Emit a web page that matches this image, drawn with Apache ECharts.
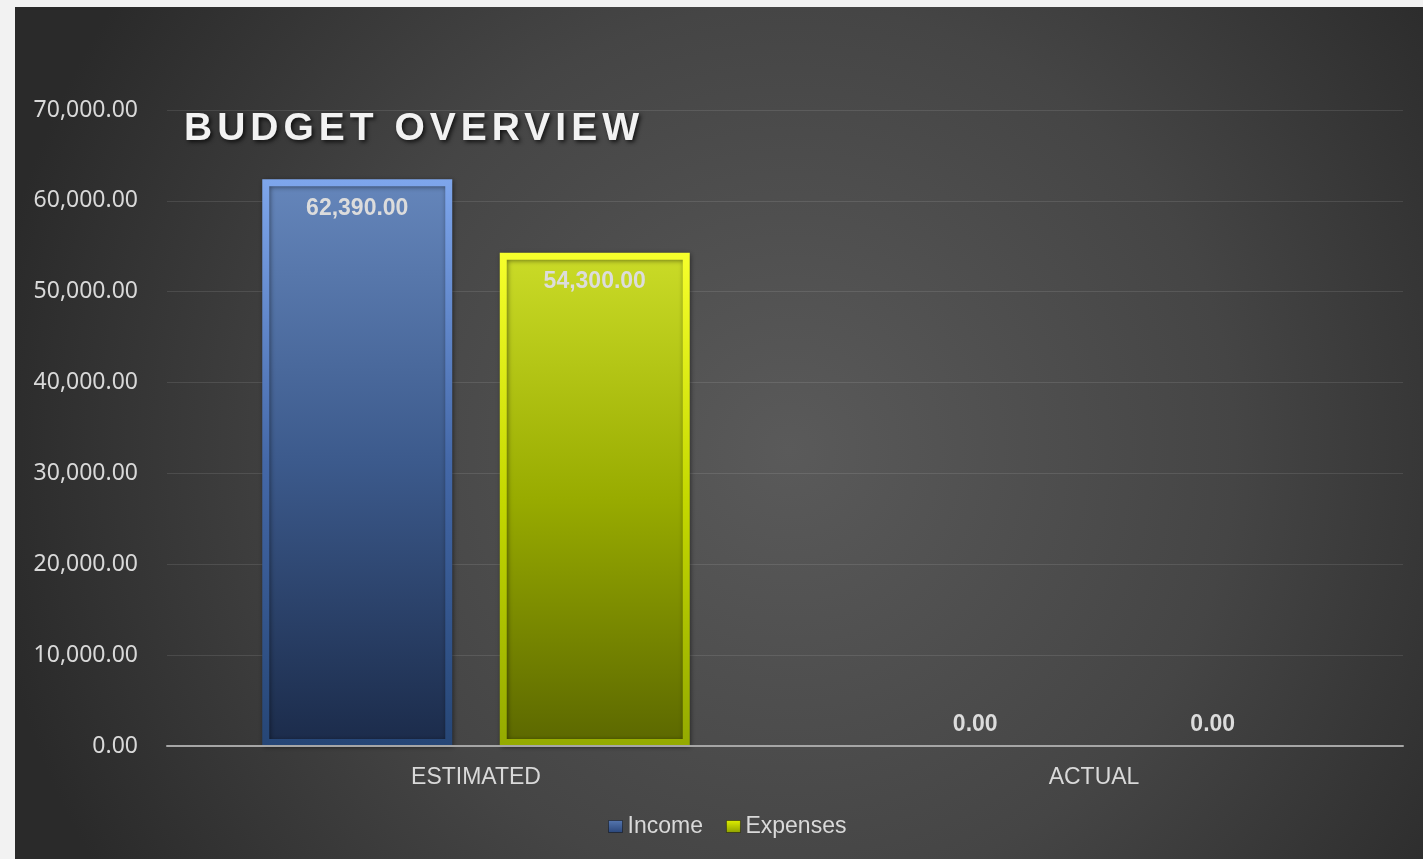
<!DOCTYPE html>
<html>
<head>
<meta charset="utf-8">
<script src="https://cdn.jsdelivr.net/npm/echarts@6/dist/echarts.min.js"></script>
<style>
html,body{margin:0;padding:0;background:#f2f2f2;}
#c{width:1423px;height:859px;}
</style>
</head>
<body>
<div id="c"></div>
<script>
// ---- data ----
const categories = ['ESTIMATED', 'ACTUAL'];
const seriesNames = ['Income', 'Expenses'];
const incomeValues = [62390, 0];
const expenseValues = [54300, 0];
const yTickValues = [0, 10000, 20000, 30000, 40000, 50000, 60000, 70000];
const chartTitle = 'BUDGET OVERVIEW';

// ---- styling ----
function lin(stops) {
  return new echarts.graphic.LinearGradient(0, 0, 0, 1, stops.map((c, i) => ({offset: i / (stops.length - 1), color: c})));
}
const fmt = v => Number(v).toLocaleString('en-US', {minimumFractionDigits: 2, maximumFractionDigits: 2});

const styles = {
  Income: {
    fill: lin(['#6586bb', '#3c5a8c', '#1b2b4a']),
    border: lin(['#7ea6ec', '#4468a8', '#264676']),
    legend: lin(['#5677b0', '#2a467a'])
  },
  Expenses: {
    fill: lin(['#cbdc28', '#98ab00', '#5b6700']),
    border: lin(['#f6ff2c', '#c4d800', '#94aa00']),
    legend: lin(['#e0f000', '#8ea000'])
  }
};

function buildData(values) {
  return values.map(v => v === 0
    ? {value: v, itemStyle: {borderWidth: 0, shadowBlur: 0}, label: {position: 'top', distance: 10}}
    : {value: v});
}

const valuesByName = {Income: incomeValues, Expenses: expenseValues};

const chart = echarts.init(document.getElementById('c'));
// title lives on its own canvas layer so that letter spacing only affects it
try {
  const layer = chart.getZr().painter.getLayer(1);
  if (layer && layer.ctx) layer.ctx.letterSpacing = '5px';
} catch (e) {}

chart.setOption({
  backgroundColor: 'transparent',
  animation: false,
  graphic: [{
    type: 'rect',
    z: -100,
    silent: true,
    shape: {x: 15, y: 7, width: 1408, height: 852},
    style: {
      fill: new echarts.graphic.RadialGradient(0.55, 0.52, 0.95, [
        {offset: 0, color: '#5a5a5a'},
        {offset: 0.55, color: '#454545'},
        {offset: 1, color: '#2a2a2a'}
      ])
    }
  }],
  title: {
    text: chartTitle,
    left: 184,
    top: 110,
    padding: 0,
    zlevel: 1,
    textStyle: {
      color: '#f2f2f2',
      fontSize: 39,
      fontWeight: 'bold',
      fontFamily: 'Liberation Sans, Arial, sans-serif',
      textShadowColor: 'rgba(0,0,0,0.75)',
      textShadowBlur: 4,
      textShadowOffsetX: 2,
      textShadowOffsetY: 2
    }
  },
  legend: {
    left: 608,
    top: 815,
    padding: 0,
    icon: 'rect',
    itemWidth: 14,
    itemHeight: 12,
    itemGap: 23,
    textStyle: {color: '#d9d9d9', fontSize: 23, fontFamily: 'Liberation Sans, Arial, sans-serif'},
    data: seriesNames.map(n => ({
      name: n,
      itemStyle: {color: styles[n].legend, borderColor: 'rgba(0,0,0,0.4)', borderWidth: 1, shadowBlur: 0}
    }))
  },
  grid: {left: 167, right: 20, top: 110, bottom: 113, containLabel: false},
  xAxis: {
    type: 'category',
    data: categories,
    z: 5,
    axisLine: {show: true, lineStyle: {color: '#a6a6a6', width: 2}},
    axisTick: {show: false},
    axisLabel: {color: '#d9d9d9', fontSize: 23, margin: 20, fontFamily: 'Liberation Sans, Arial, sans-serif'},
    splitLine: {show: false}
  },
  yAxis: {
    type: 'value',
    min: yTickValues[0],
    max: yTickValues[yTickValues.length - 1],
    interval: yTickValues[1] - yTickValues[0],
    axisLine: {show: false},
    axisTick: {show: false},
    axisLabel: {color: '#d9d9d9', fontSize: 23, margin: 29, fontFamily: 'Noto Sans, Open Sans, sans-serif', formatter: fmt},
    splitLine: {lineStyle: {color: 'rgba(255,255,255,0.1)', width: 1}}
  },
  series: seriesNames.map(n => ({
    name: n,
    type: 'bar',
    barWidth: 190,
    barGap: '25%',
    data: buildData(valuesByName[n]),
    itemStyle: {
      color: styles[n].fill,
      borderColor: styles[n].border,
      borderWidth: 7,
      shadowColor: 'rgba(0,0,0,0.45)',
      shadowBlur: 5,
      shadowOffsetX: 1,
      shadowOffsetY: 1
    },
    label: {
      show: true,
      position: 'insideTop',
      distance: 18,
      color: '#dcdcdc',
      fontSize: 23,
      fontWeight: 'bold',
      fontFamily: 'Liberation Sans, Arial, sans-serif',
      formatter: p => fmt(p.value)
    }
  }))
});
</script>
</body>
</html>
